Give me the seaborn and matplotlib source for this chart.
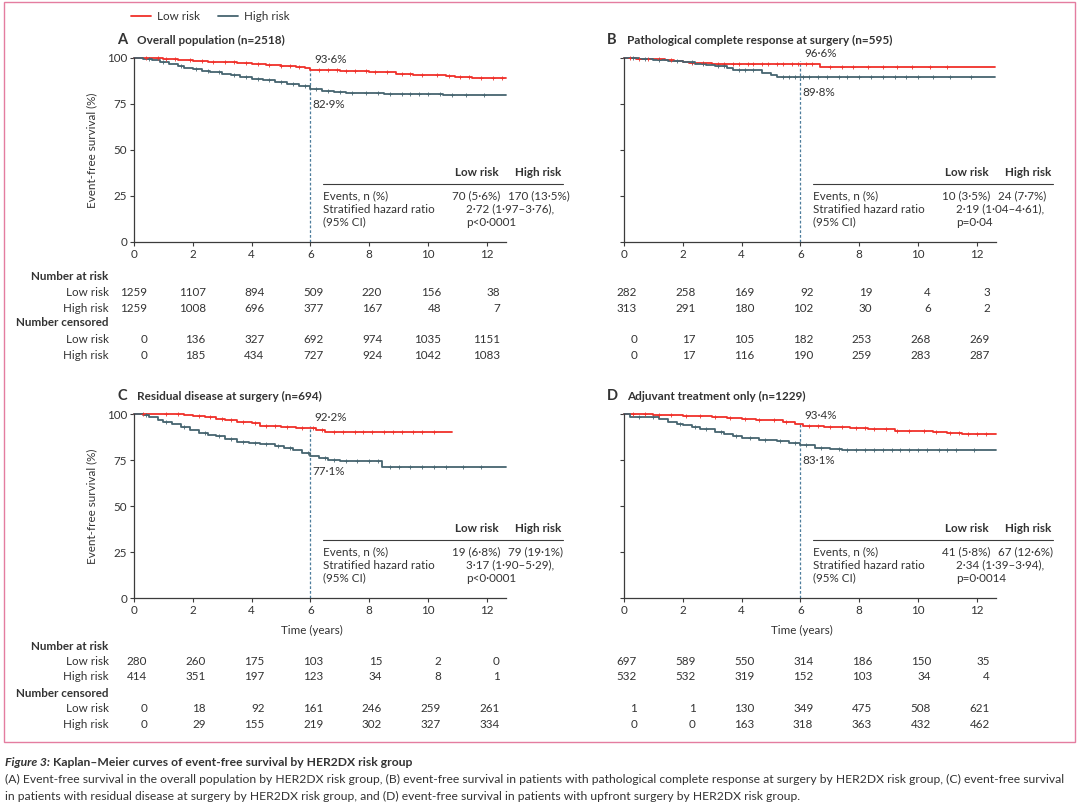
import numpy as np
import pandas as pd
import matplotlib
matplotlib.use("Agg")
import matplotlib.pyplot as plt
import seaborn as sns
from matplotlib.transforms import blended_transform_factory
from matplotlib.patches import Rectangle

# ---------------- data ----------------
years = [0, 2, 4, 6, 8, 10, 12]
LANDMARK = 6

# Panel A - overall population
a_low_t = [0, 0.5, 1.0, 1.5, 2.0, 2.5, 3.0, 3.5, 4.0, 4.5, 5.0, 5.5, 5.8, 6.0, 6.5, 7.0, 7.5, 8.0, 8.5, 8.9, 9.5, 10.1, 10.6, 10.9, 11.5, 12.0, 12.65]
a_low_s = [100, 99.8, 99.4, 99.0, 98.5, 98.0, 97.6, 97.1, 96.6, 96.1, 95.6, 95.1, 94.5, 93.6, 93.3, 93.0, 92.7, 92.5, 92.4, 91.5, 91.0, 90.5, 90.2, 89.6, 89.4, 89.3, 89.3]
a_high_t = [0, 0.3, 0.6, 0.9, 1.2, 1.5, 1.7, 2.0, 2.3, 2.6, 3.0, 3.3, 3.6, 4.0, 4.4, 4.8, 5.2, 5.6, 6.0, 6.4, 6.8, 7.2, 7.8, 8.5, 9.0, 10.5, 12.65]
a_high_s = [100, 99.4, 98.7, 97.8, 96.9, 95.8, 94.7, 94.0, 93.1, 92.3, 91.5, 90.7, 89.8, 88.8, 88.0, 87.0, 85.8, 84.6, 82.9, 82.2, 81.5, 81.0, 80.8, 80.4, 80.2, 80.1, 80.0]
a_low_cens = [0.4, 0.8, 1.1, 1.4, 1.9, 2.3, 2.7, 3.1, 3.4, 3.8, 4.2, 4.6, 5.0, 5.3, 5.6, 6.3, 6.6, 6.9, 7.2, 7.5, 7.9, 8.2, 8.6, 9.1, 9.4, 9.8, 10.3, 10.7, 11.1, 11.4, 11.8, 12.2, 12.5]
a_high_cens = [0.5, 1.0, 1.6, 2.1, 2.5, 2.9, 3.4, 3.8, 4.2, 4.6, 5.0, 5.4, 5.8, 6.2, 6.6, 7.0, 7.4, 7.9, 8.3, 8.7, 9.1, 9.4, 9.7, 10.0, 10.4, 10.8, 11.3, 11.9]
a_efs6 = [93.6, 82.9]
a_events = ["70 (5·6%)", "170 (13·5%)"]
a_hr = ["2·72 (1·97–3·76),", "p<0·0001"]
a_risk_low = [1259, 1107, 894, 509, 220, 156, 38]
a_risk_high = [1259, 1008, 696, 377, 167, 48, 7]
a_cens_low = [0, 136, 327, 692, 974, 1035, 1151]
a_cens_high = [0, 185, 434, 727, 924, 1042, 1083]

# Panel B - pathological complete response
b_low_t = [0, 0.4, 0.9, 1.4, 1.7, 2.0, 2.2, 2.6, 3.0, 6.65, 12.6]
b_low_s = [100, 99.7, 99.4, 99.0, 98.6, 98.0, 97.5, 97.1, 96.6, 95.1, 95.1]
b_high_t = [0, 0.5, 1.0, 1.5, 2.0, 2.4, 2.8, 3.1, 3.5, 3.7, 4.7, 5.0, 5.2, 12.6]
b_high_s = [100, 99.6, 99.1, 98.5, 97.8, 97.0, 96.3, 95.5, 94.5, 93.3, 92.0, 91.0, 89.8, 89.8]
b_low_cens = [0.2, 0.5, 0.8, 1.2, 1.6, 2.3, 2.7, 3.2, 3.4, 3.7, 3.9, 4.2, 4.4, 4.7, 4.9, 5.2, 5.4, 5.7, 5.9, 6.2, 6.4, 7.0, 7.4, 7.8, 8.3, 8.8, 9.3, 9.8, 10.4, 11.0]
b_high_cens = [0.3, 0.7, 1.2, 1.8, 2.3, 2.7, 3.2, 3.4, 3.9, 4.1, 4.4, 5.4, 5.6, 5.8, 6.1, 6.3, 6.6, 6.9, 7.3, 7.6, 8.0, 8.4, 8.8, 9.2, 9.6, 10.0, 10.5, 11.1, 11.8]
b_efs6 = [96.6, 89.8]
b_events = ["10 (3·5%)", "24 (7·7%)"]
b_hr = ["2·19 (1·04–4·61),", "p=0·04"]
b_risk_low = [282, 258, 169, 92, 19, 4, 3]
b_risk_high = [313, 291, 180, 102, 30, 6, 2]
b_cens_low = [0, 17, 105, 182, 253, 268, 269]
b_cens_high = [0, 17, 116, 190, 259, 283, 287]

# Panel C - residual disease
c_low_t = [0, 1.0, 1.7, 2.0, 2.4, 2.8, 3.1, 3.5, 4.0, 4.3, 5.0, 5.5, 5.9, 6.2, 6.5, 10.8]
c_low_s = [100, 100, 99.5, 98.8, 98.2, 97.5, 96.8, 95.8, 95.0, 93.3, 93.0, 92.6, 92.2, 91.2, 90.1, 90.1]
c_high_t = [0, 0.3, 0.5, 0.8, 1.0, 1.3, 1.6, 1.9, 2.2, 2.5, 2.8, 3.1, 3.5, 3.9, 4.3, 4.8, 5.1, 5.4, 5.7, 6.0, 6.3, 6.6, 7.0, 8.45, 12.65]
c_high_s = [100, 99.3, 98.3, 97.0, 95.8, 94.5, 93.2, 91.3, 89.8, 88.8, 88.0, 86.5, 85.0, 84.0, 83.5, 82.8, 81.5, 80.2, 78.7, 77.1, 76.0, 75.1, 74.6, 71.1, 71.1]
c_low_cens = [0.3, 1.1, 1.5, 2.2, 2.6, 3.0, 3.3, 3.7, 4.1, 4.5, 4.8, 5.2, 5.7, 6.1, 6.4, 6.8, 7.1, 7.5, 7.8, 8.1, 8.5, 8.8, 9.1, 9.5, 9.8, 10.2]
c_high_cens = [0.4, 1.1, 1.7, 2.4, 2.9, 3.3, 3.7, 4.1, 4.5, 4.9, 5.3, 5.9, 6.5, 6.8, 7.2, 7.6, 8.0, 8.3, 8.7, 9.0, 9.4, 9.8, 10.2, 10.6, 11.2, 11.8]
c_efs6 = [92.2, 77.1]
c_events = ["19 (6·8%)", "79 (19·1%)"]
c_hr = ["3·17 (1·90–5·29),", "p<0·0001"]
c_risk_low = [280, 260, 175, 103, 15, 2, 0]
c_risk_high = [414, 351, 197, 123, 34, 8, 1]
c_cens_low = [0, 18, 92, 161, 246, 259, 261]
c_cens_high = [0, 29, 155, 219, 302, 327, 334]

# Panel D - adjuvant treatment only
d_low_t = [0, 0.5, 1.0, 1.5, 2.0, 2.5, 3.0, 3.5, 4.0, 4.5, 5.0, 5.4, 5.8, 6.1, 6.8, 7.3, 7.7, 8.3, 8.6, 9.2, 9.6, 10.0, 10.5, 11.0, 11.5, 12.65]
d_low_s = [100, 100, 99.6, 99.3, 99.0, 98.7, 98.4, 98.0, 97.4, 97.0, 96.5, 95.7, 94.6, 93.4, 93.1, 92.8, 92.4, 92.1, 91.7, 91.0, 90.8, 90.5, 90.1, 89.6, 89.3, 89.2]
d_high_t = [0, 0.2, 0.8, 1.2, 1.5, 1.8, 2.0, 2.3, 2.6, 3.1, 3.4, 3.7, 4.0, 4.6, 5.2, 5.6, 6.0, 6.5, 7.0, 7.4, 12.65]
d_high_s = [100, 98.6, 98.2, 97.3, 95.6, 94.5, 93.8, 92.8, 91.9, 90.2, 89.2, 88.1, 87.0, 86.1, 85.2, 84.3, 83.1, 81.6, 80.8, 80.3, 80.3]
d_low_cens = [0.3, 0.7, 1.2, 1.6, 2.1, 2.6, 3.1, 3.6, 4.1, 4.6, 5.1, 5.5, 6.3, 6.6, 7.0, 7.4, 7.9, 8.2, 8.5, 8.9, 9.3, 9.7, 10.2, 10.6, 11.1, 11.4, 11.7, 12.0, 12.3]
d_high_cens = [0.5, 1.0, 1.9, 2.4, 2.8, 3.3, 3.8, 4.3, 4.8, 5.3, 5.8, 6.2, 6.7, 7.3, 7.6, 7.9, 8.2, 8.5, 8.8, 9.1, 9.4, 9.7, 10.0, 10.3, 10.7, 11.0, 11.3, 11.9]
d_efs6 = [93.4, 83.1]
d_events = ["41 (5·8%)", "67 (12·6%)"]
d_hr = ["2·34 (1·39–3·94),", "p=0·0014"]
d_risk_low = [697, 589, 550, 314, 186, 150, 35]
d_risk_high = [532, 532, 319, 152, 103, 34, 4]
d_cens_low = [1, 1, 130, 349, 475, 508, 621]
d_cens_high = [0, 0, 163, 318, 363, 432, 462]

titles = ["Overall population (n=2518)", "Pathological complete response at surgery (n=595)",
          "Residual disease at surgery (n=694)", "Adjuvant treatment only (n=1229)"]
letters = ["A", "B", "C", "D"]
groups = ["Low risk", "High risk"]

caption_title = "Kaplan–Meier curves of event-free survival by HER2DX risk group"
caption_1 = ("(A) Event-free survival in the overall population by HER2DX risk group, (B) event-free survival "
             "in patients with pathological complete response at surgery by HER2DX risk group, (C) event-free survival")
caption_2 = ("in patients with residual disease at surgery by HER2DX risk group, and (D) event-free survival "
             "in patients with upfront surgery by HER2DX risk group.")

# ---------------- style ----------------
RED = "#f0302a"
GREY = "#466570"
DASH = "#4d7d9c"
TXT = "#333333"
SPINE = "#3c3c3c"
PINK = "#e47da0"
FS = 8.4

sns.set_theme(style="ticks")
plt.rcParams["font.family"] = ["Lato", "DejaVu Sans"]
plt.rcParams["text.color"] = TXT
plt.rcParams["axes.labelcolor"] = TXT
plt.rcParams["xtick.color"] = SPINE
plt.rcParams["ytick.color"] = SPINE
plt.rcParams["xtick.labelcolor"] = TXT
plt.rcParams["ytick.labelcolor"] = TXT

W, H = 1080, 805
fig = plt.figure(figsize=(W / 100, H / 100), dpi=100)


def fx(px):
    return px / W


def fy(py):
    return 1 - py / H


XMAX = 12.65
AX_W = 372
AX_H = 184
# (left px, y=0 px)
slots = [(134, 242), (624, 242), (134, 598), (624, 598)]
table_rows = {242: [276, 292, 308, 323, 339, 355], 598: [646, 661, 677, 693, 708, 724]}

panels = [
    dict(low=(a_low_t, a_low_s, a_low_cens), high=(a_high_t, a_high_s, a_high_cens), efs=a_efs6,
         events=a_events, hr=a_hr, risk=(a_risk_low, a_risk_high), cens=(a_cens_low, a_cens_high)),
    dict(low=(b_low_t, b_low_s, b_low_cens), high=(b_high_t, b_high_s, b_high_cens), efs=b_efs6,
         events=b_events, hr=b_hr, risk=(b_risk_low, b_risk_high), cens=(b_cens_low, b_cens_high)),
    dict(low=(c_low_t, c_low_s, c_low_cens), high=(c_high_t, c_high_s, c_high_cens), efs=c_efs6,
         events=c_events, hr=c_hr, risk=(c_risk_low, c_risk_high), cens=(c_cens_low, c_cens_high)),
    dict(low=(d_low_t, d_low_s, d_low_cens), high=(d_high_t, d_high_s, d_high_cens), efs=d_efs6,
         events=d_events, hr=d_hr, risk=(d_risk_low, d_risk_high), cens=(d_cens_low, d_cens_high)),
]


def km_curve(ax, t, s, cens, color, label):
    df = pd.DataFrame({"t": t, "s": s})
    sns.lineplot(data=df, x="t", y="s", drawstyle="steps-post", estimator=None, color=color,
                 linewidth=1.3, ax=ax, clip_on=False, label=label, legend=False)
    # censor marks sit on the step curve
    idx = np.searchsorted(np.asarray(t), np.asarray(cens), side="right") - 1
    cdf = pd.DataFrame({"t": cens, "s": np.asarray(s)[idx]})
    sns.scatterplot(data=cdf, x="t", y="s", marker="+", s=11, color=color, linewidth=0.6,
                    ax=ax, clip_on=False, legend=False, zorder=3)


def fmt(v):
    return f"{v:.1f}".replace(".", "·") + "%"


handles = None
for i, (p, (lx, y0)) in enumerate(zip(panels, slots)):
    ax = fig.add_axes([fx(lx), fy(y0), AX_W / W, AX_H / H])
    km_curve(ax, *p["low"], RED, groups[0])
    km_curve(ax, *p["high"], GREY, groups[1])
    if i == 0:
        handles = ax.get_lines()[:2]

    ax.set_xlim(0, XMAX)
    ax.set_ylim(0, 100)
    ax.set_xticks(years)
    ax.set_yticks([0, 25, 50, 75, 100])
    left = i % 2 == 0
    if not left:
        ax.set_yticklabels([])
    ax.tick_params(axis="both", length=3, width=0.8, pad=2, labelsize=FS)
    sns.despine(ax=ax)
    for sp in ("left", "bottom"):
        ax.spines[sp].set_color(SPINE)
        ax.spines[sp].set_linewidth(0.9)
    ax.set_xlabel("")
    ax.set_ylabel("")
    if left:
        ax.set_ylabel("Event-free survival (%)", fontsize=FS)
        ax.yaxis.set_label_coords(-0.10, 0.5)
    if i >= 2:
        ax.set_xlabel("Time (years)", fontsize=FS)
        ax.xaxis.set_label_coords(0.478, -0.148)

    # landmark line and 6-year EFS labels
    lo6, hi6 = p["efs"]
    ax.axvline(LANDMARK, ymin=0, ymax=(lo6 + 1.5) / 100, color=DASH, lw=0.9,
               linestyle=(0, (2.2, 1.6)), zorder=1)
    ax.text(LANDMARK + 0.12, lo6 + 5.8, fmt(lo6), fontsize=FS, va="center", ha="left")
    ax.text(LANDMARK + 0.08, hi6 - 8.3, fmt(hi6), fontsize=FS, va="center", ha="left")

    # panel title
    fig.text(fx(lx - 17), fy(y0 - 202), letters[i], fontsize=10.5, fontweight="bold", va="center")
    fig.text(fx(lx + 3), fy(y0 - 202), titles[i], fontsize=FS + 0.1, fontweight="bold", va="center")

    # inline statistics table
    ax.text(12.41, 37.7, groups[0], ha="right", va="center", fontsize=FS, fontweight="bold")
    ax.text(12.96, 37.7, groups[1], ha="left", va="center", fontsize=FS, fontweight="bold")
    ax.plot([6.43, 14.6], [31.7, 31.7], color=SPINE, lw=0.8, clip_on=False)
    ax.text(6.43, 25, "Events, n (%)", ha="left", va="center", fontsize=FS)
    ax.text(6.43, 17.9, "Stratified hazard ratio", ha="left", va="center", fontsize=FS)
    ax.text(6.43, 10.8, "(95% CI)", ha="left", va="center", fontsize=FS)
    ax.text(12.45, 25, p["events"][0], ha="right", va="center", fontsize=FS)
    ax.text(12.72, 25, p["events"][1], ha="left", va="center", fontsize=FS)
    ax.text(11.29, 17.9, p["hr"][0], ha="left", va="center", fontsize=FS)
    ax.text(11.29, 10.8, p["hr"][1], ha="left", va="center", fontsize=FS)

    # numbers at risk / censored
    tr = blended_transform_factory(ax.transData, fig.transFigure)
    rows = table_rows[y0]
    values = [None, p["risk"][0], p["risk"][1], None, p["cens"][0], p["cens"][1]]
    labels = ["Number at risk", groups[0], groups[1], "Number censored", groups[0], groups[1]]
    for ry, vals, lab in zip(rows, values, labels):
        if left:
            ax.text(-0.86, fy(ry), lab, transform=tr, ha="right", va="center", fontsize=FS,
                    fontweight="bold" if vals is None else "normal")
        if vals is not None:
            for yr, v in zip(years, vals):
                ax.text(yr + 0.44, fy(ry), str(v), transform=tr, ha="right", va="center", fontsize=FS)

# legend
fig.legend(handles=handles, labels=groups, loc="center left", bbox_to_anchor=(fx(131), fy(17)),
           frameon=False, ncol=2, fontsize=FS, handlelength=1.7, handletextpad=0.5,
           columnspacing=1.6, borderpad=0, borderaxespad=0)

# pink frame around the figure body
fig.add_artist(Rectangle((fx(4), fy(742)), fx(1075) - fx(4), fy(2) - fy(742), transform=fig.transFigure,
                         fill=False, edgecolor=PINK, linewidth=1.0))

# caption
renderer = fig.canvas.get_renderer()


def fit_text(t, target_px):
    w = t.get_window_extent(renderer).width
    t.set_fontsize(t.get_fontsize() * target_px / w)


cap_ax = fig.add_axes([0, 0, 1, 1])
cap_ax.axis("off")
t0 = cap_ax.text(fx(5), fy(762), "Figure 3:", fontsize=8, fontweight="bold", fontstyle="italic",
                 va="center", ha="left", transform=fig.transFigure)
t1 = cap_ax.annotate(" " + caption_title, xy=(1, 0.5), xycoords=t0, va="center", ha="left",
                     fontsize=8, fontweight="bold")
t2 = cap_ax.text(fx(5), fy(779), caption_1, fontsize=8, va="center", ha="left", transform=fig.transFigure)
t3 = cap_ax.text(fx(5), fy(796), caption_2, fontsize=8, va="center", ha="left", transform=fig.transFigure)
fit_text(t2, 1068)
t3.set_fontsize(t2.get_fontsize())
t0.set_fontsize(t2.get_fontsize())
t1.set_fontsize(t2.get_fontsize())

fig.savefig("out.png", dpi=100)
